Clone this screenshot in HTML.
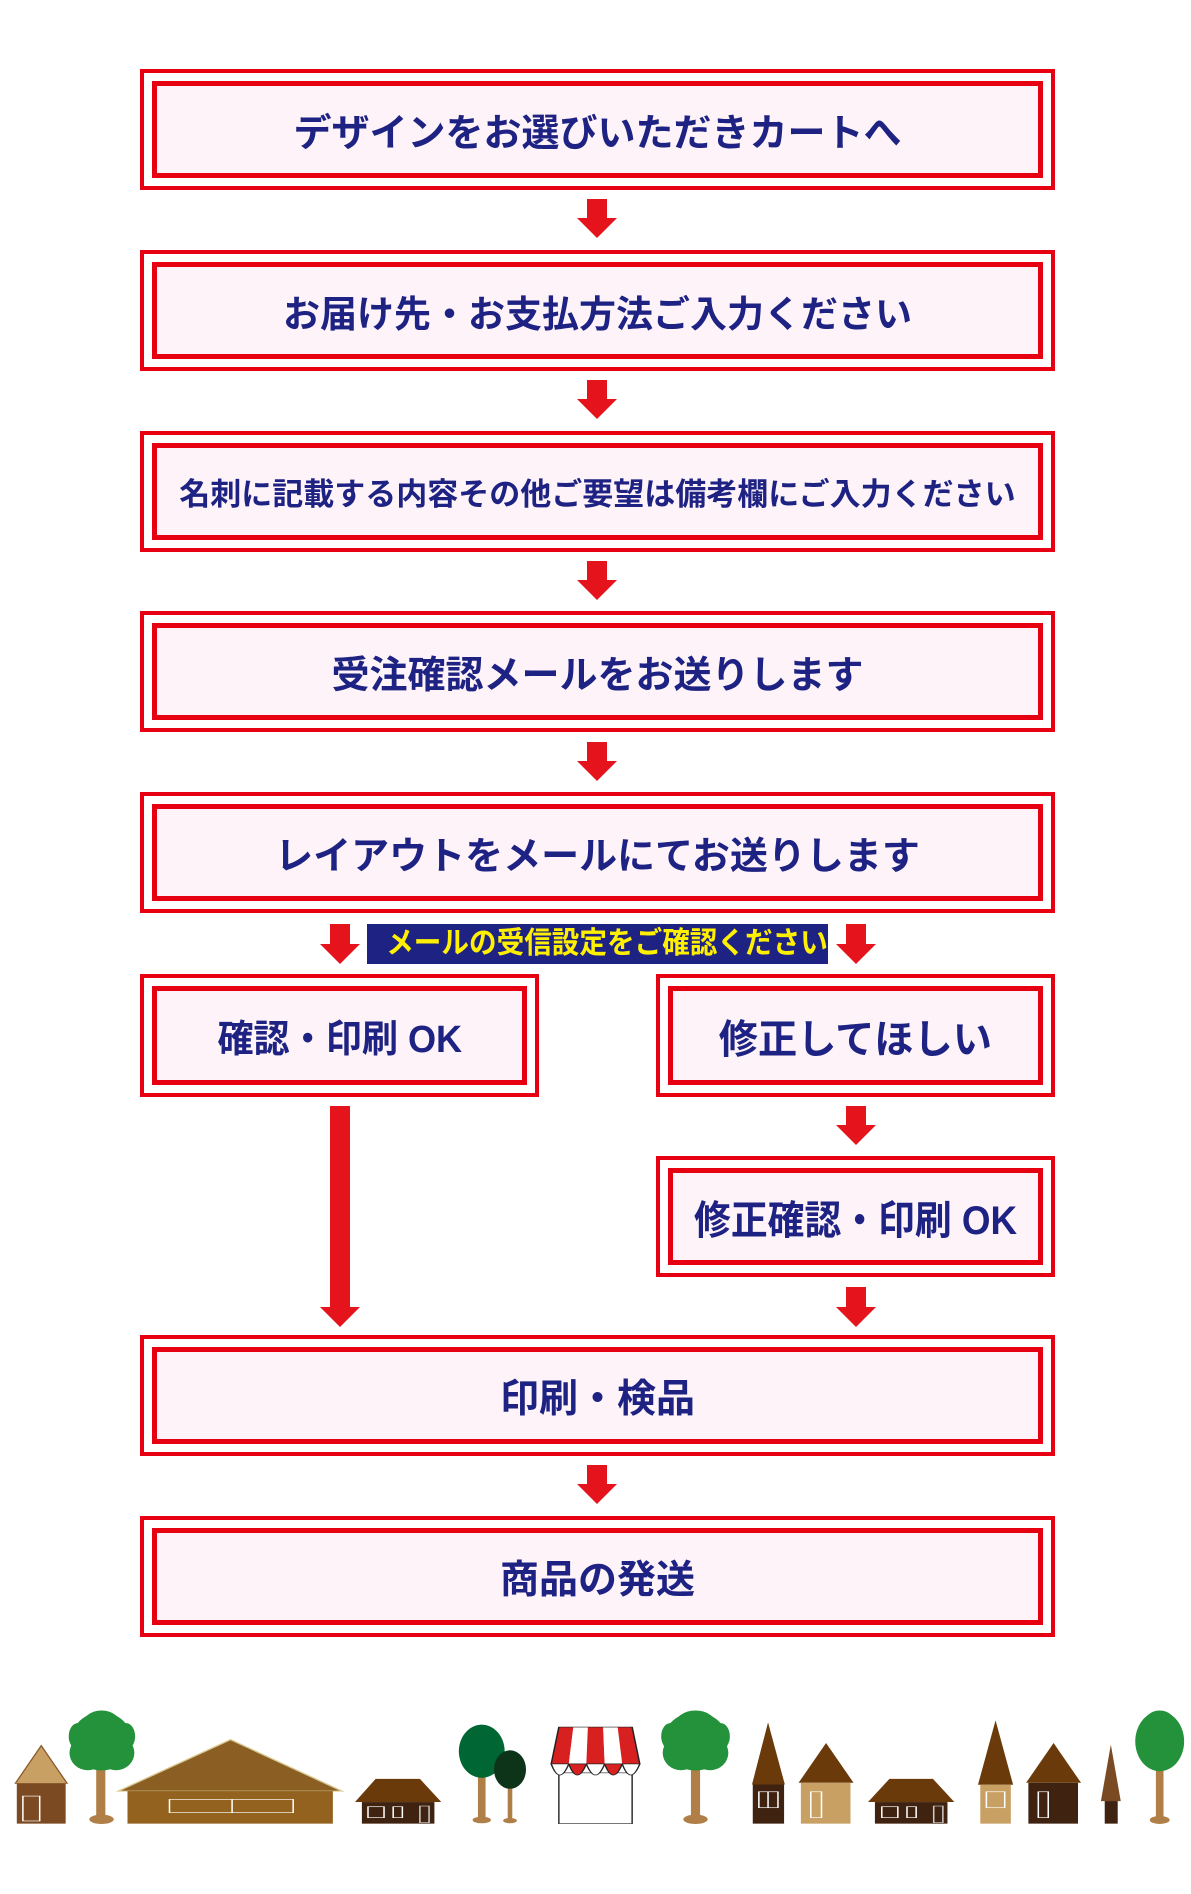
<!DOCTYPE html>
<html><head><meta charset="utf-8"><style>
body{margin:0;width:1191px;height:1894px;background:#fff;position:relative;overflow:hidden;font-family:"Liberation Sans","Noto Sans CJK JP",sans-serif}
.box{position:absolute;border:4px solid #e60012;box-sizing:border-box;background:#fff}
.in{position:absolute;left:8px;right:8px;top:8px;bottom:8px;border:5px solid #e60012;background:#fdf3f8;display:flex;align-items:center;justify-content:center;color:#1e2283;font-weight:bold;font-size:38px;white-space:nowrap}
.ar{position:absolute;width:40px}
.ar .s{position:absolute;left:10px;width:20px;top:0;background:#e5141c}
.ar .h{position:absolute;left:0;bottom:0;width:0;height:0;border-left:20px solid transparent;border-right:20px solid transparent;border-top:20px solid #e5141c}
</style></head><body>

<div class="box" style="left:140px;top:69px;width:915px;height:121px"><div class="in">デザインをお選びいただきカートへ</div></div>
<div class="box" style="left:140px;top:250px;width:915px;height:121px"><div class="in" style="font-size:37px">お届け先・お支払方法ご入力ください</div></div>
<div class="box" style="left:140px;top:431px;width:915px;height:121px"><div class="in" style="font-size:31px">名刺に記載する内容その他ご要望は備考欄にご入力ください</div></div>
<div class="box" style="left:140px;top:611px;width:915px;height:121px"><div class="in">受注確認メールをお送りします</div></div>
<div class="box" style="left:140px;top:792px;width:915px;height:121px"><div class="in">レイアウトをメールにてお送りします</div></div>

<div class="ar" style="left:577px;top:199px;height:39px"><div class="s" style="height:20px"></div><div class="h"></div></div>
<div class="ar" style="left:577px;top:380px;height:39px"><div class="s" style="height:20px"></div><div class="h"></div></div>
<div class="ar" style="left:577px;top:561px;height:39px"><div class="s" style="height:20px"></div><div class="h"></div></div>
<div class="ar" style="left:577px;top:742px;height:39px"><div class="s" style="height:20px"></div><div class="h"></div></div>

<div class="ar" style="left:320px;top:924px;height:40px"><div class="s" style="height:21px"></div><div class="h"></div></div>
<div class="ar" style="left:836px;top:924px;height:40px"><div class="s" style="height:21px"></div><div class="h"></div></div>
<div style="position:absolute;left:367px;top:924px;width:461px;height:40px;background:#1e2283;color:#ffef00;font-weight:bold;font-size:30px;line-height:40px;text-align:center;white-space:nowrap;overflow:hidden"><span style="display:inline-block;transform:scaleX(0.92)">メールの受信設定をご確認ください</span></div>

<div class="box" style="left:140px;top:974px;width:399px;height:123px"><div class="in" style="font-size:38px"><span style="display:inline-block;transform:scaleX(0.95)">確認・印刷 OK</span></div></div>
<div class="box" style="left:656px;top:974px;width:399px;height:123px"><div class="in" style="font-size:40px"><span style="display:inline-block;transform:scaleX(0.98)">修正してほしい</span></div></div>

<div class="ar" style="left:320px;top:1106px;height:221px"><div class="s" style="height:202px"></div><div class="h"></div></div>
<div class="ar" style="left:836px;top:1106px;height:39px"><div class="s" style="height:20px"></div><div class="h"></div></div>

<div class="box" style="left:656px;top:1156px;width:399px;height:121px"><div class="in" style="font-size:40px"><span style="display:inline-block;transform:scaleX(0.92)">修正確認・印刷 OK</span></div></div>
<div class="ar" style="left:836px;top:1287px;height:40px"><div class="s" style="height:21px"></div><div class="h"></div></div>

<div class="box" style="left:140px;top:1335px;width:915px;height:121px"><div class="in" style="font-size:39px">印刷・検品</div></div>
<div class="ar" style="left:577px;top:1465px;height:39px"><div class="s" style="height:20px"></div><div class="h"></div></div>
<div class="box" style="left:140px;top:1516px;width:915px;height:121px"><div class="in" style="font-size:39px">商品の発送</div></div>

<svg style="position:absolute;left:0;top:1660px" width="1191" height="234" viewBox="0 0 1560 705" preserveAspectRatio="none">
<g>
<polygon points="20,372 54,258 88,372" fill="#c9a063" stroke="#8b5a2b" stroke-width="2"/>
<rect x="22" y="372" width="64" height="121" fill="#7b4a22"/>
<rect x="30" y="410" width="22" height="75" fill="none" stroke="#fff" stroke-width="2"/>
<rect x="126" y="320" width="12" height="170" fill="#b07f48"/>
<ellipse cx="133" cy="480" rx="16" ry="14" fill="#b07f48"/>
<g fill="#23923a"><ellipse cx="133" cy="245" rx="40" ry="88"/><ellipse cx="133" cy="200" rx="26" ry="48"/><ellipse cx="115" cy="280" rx="24" ry="52"/><ellipse cx="152" cy="280" rx="24" ry="52"/><ellipse cx="102" cy="230" rx="12" ry="40"/><ellipse cx="165" cy="230" rx="12" ry="40"/></g>
<polygon points="155,395 302,240 448,395" fill="#8b5e24" stroke="#d9c98f" stroke-width="3"/>
<rect x="167" y="395" width="269" height="98" fill="#93621f"/>
<rect x="222" y="420" width="162" height="40" fill="none" stroke="#fff" stroke-width="2"/><line x1="304" y1="420" x2="304" y2="460" stroke="#fff" stroke-width="2"/>
<polygon points="465,428 492,358 550,358 578,428" fill="#6b3a0a"/>
<rect x="474" y="428" width="95" height="65" fill="#3f2210"/>
<rect x="482" y="442" width="21" height="33" fill="none" stroke="#fff" stroke-width="2"/><rect x="515" y="442" width="12" height="33" fill="none" stroke="#fff" stroke-width="2"/><rect x="550" y="440" width="12" height="50" fill="none" stroke="#ccc" stroke-width="2"/>
<rect x="626" y="350" width="10" height="140" fill="#b07f48"/><ellipse cx="631" cy="482" rx="12" ry="10" fill="#b07f48"/>
<g fill="#006633"><ellipse cx="631" cy="275" rx="30" ry="80"/><ellipse cx="631" cy="230" rx="20" ry="35"/></g>
<rect x="665" y="380" width="6" height="110" fill="#b07f48"/><ellipse cx="668" cy="484" rx="9" ry="8" fill="#b07f48"/>
<g fill="#0d3318"><ellipse cx="668" cy="330" rx="21" ry="58"/></g>
<rect x="732" y="340" width="96" height="153" fill="#fff" stroke="#333" stroke-width="2"/>
<polygon points="732,202 751,202 745,313 722,313" fill="#d92020"/><polygon points="751,202 770,202 768,313 745,313" fill="#fff"/><polygon points="770,202 790,202 792,313 768,313" fill="#d92020"/><polygon points="790,202 809,202 815,313 792,313" fill="#fff"/><polygon points="809,202 828,202 838,313 815,313" fill="#d92020"/>
<polygon points="732,202 828,202 838,313 722,313" fill="none" stroke="#222" stroke-width="2"/>
<g stroke="#222" stroke-width="2"><path d="M722,313 Q733,380 745,313Z" fill="#fff"/><path d="M745,313 Q756,380 768,313Z" fill="#d92020"/><path d="M768,313 Q780,380 792,313Z" fill="#fff"/><path d="M792,313 Q803,380 815,313Z" fill="#d92020"/><path d="M815,313 Q826,380 838,313Z" fill="#fff"/></g>
<rect x="905" y="320" width="12" height="170" fill="#b07f48"/><ellipse cx="911" cy="480" rx="16" ry="14" fill="#b07f48"/>
<g fill="#23923a"><ellipse cx="911" cy="245" rx="42" ry="88"/><ellipse cx="911" cy="200" rx="28" ry="48"/><ellipse cx="892" cy="280" rx="24" ry="52"/><ellipse cx="930" cy="280" rx="24" ry="52"/><ellipse cx="878" cy="230" rx="12" ry="40"/><ellipse cx="944" cy="230" rx="12" ry="40"/></g>
<polygon points="985,375 1006,188 1028,375" fill="#6b3a0a"/><rect x="986" y="375" width="41" height="118" fill="#3f2210"/>
<rect x="994" y="397" width="25" height="48" fill="none" stroke="#fff" stroke-width="2"/><line x1="1006" y1="397" x2="1006" y2="445" stroke="#fff" stroke-width="2"/>
<polygon points="1046,370 1082,250 1118,370" fill="#6b3a0a"/><rect x="1049" y="370" width="65" height="123" fill="#c8a063"/>
<rect x="1062" y="397" width="14" height="78" fill="none" stroke="#fff" stroke-width="2"/>
<polygon points="1137,428 1165,358 1222,358 1250,428" fill="#6b3a0a"/><rect x="1146" y="428" width="95" height="65" fill="#3f2210"/>
<rect x="1155" y="442" width="21" height="33" fill="none" stroke="#fff" stroke-width="2"/><rect x="1188" y="442" width="12" height="33" fill="none" stroke="#fff" stroke-width="2"/><rect x="1223" y="440" width="12" height="50" fill="none" stroke="#ccc" stroke-width="2"/>
<polygon points="1281,376 1304,182 1327,376" fill="#6b3a0a"/><rect x="1284" y="376" width="40" height="117" fill="#c8a063"/>
<rect x="1292" y="397" width="24" height="48" fill="none" stroke="#fff" stroke-width="2"/>
<polygon points="1344,370 1380,250 1416,370" fill="#6b3a0a"/><rect x="1347" y="370" width="65" height="123" fill="#3f2210"/>
<rect x="1360" y="397" width="13" height="78" fill="none" stroke="#fff" stroke-width="2"/>
<polygon points="1442,425 1455,255 1468,425" fill="#7a4a22"/><rect x="1447" y="425" width="17" height="68" fill="#3f2210"/>
<rect x="1514" y="320" width="10" height="170" fill="#b07f48"/><ellipse cx="1519" cy="482" rx="13" ry="12" fill="#b07f48"/>
<g fill="#23923a"><ellipse cx="1519" cy="245" rx="32" ry="90"/><ellipse cx="1519" cy="200" rx="22" ry="48"/></g>
</g>
</svg>
</body></html>
